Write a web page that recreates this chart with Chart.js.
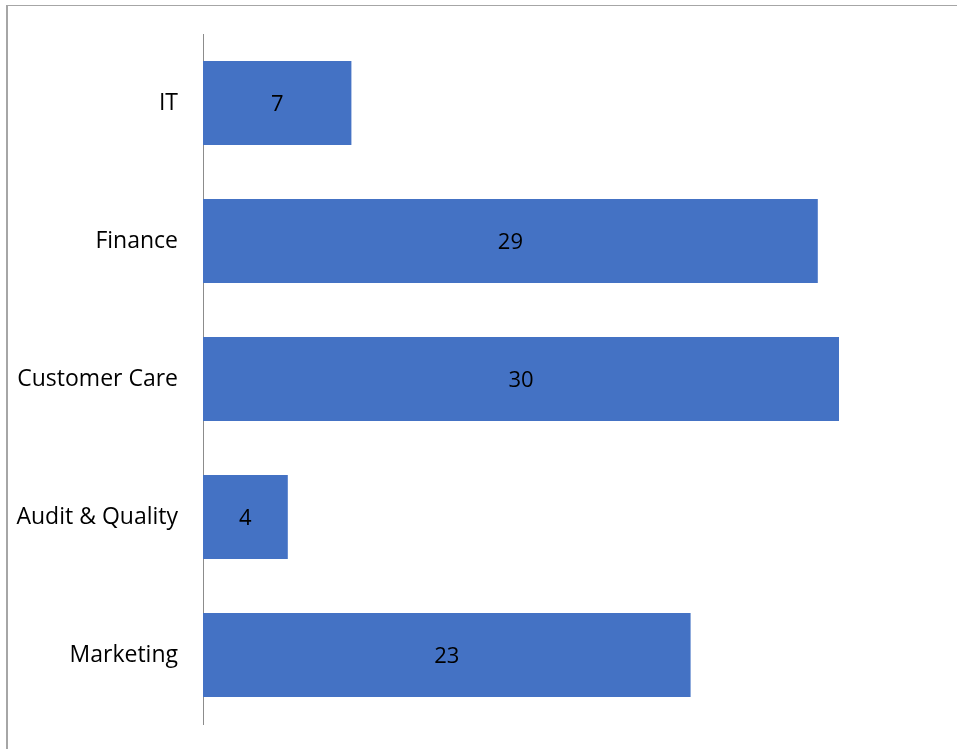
<!DOCTYPE html>
<html>
<head>
<meta charset="utf-8">
<script src="https://cdn.jsdelivr.net/npm/chart.js@4/dist/chart.umd.min.js"></script>
<style>
  html, body { margin: 0; padding: 0; background: #ffffff; }
  #wrap { position: relative; width: 957px; height: 749px; }
</style>
</head>
<body>
<div id="wrap"><canvas id="chart"></canvas></div>
<script>
// Headcount per department
const departments = ['IT', 'Finance', 'Customer Care', 'Audit & Quality', 'Marketing'];
const headcount = [7, 29, 30, 4, 23];

const FONT = "'Open Sans', 'DejaVu Sans', sans-serif";

// Thin frame along the top and left edges of the chart panel
const framePlugin = {
  id: 'frame',
  beforeDraw(chart) {
    const ctx = chart.ctx;
    ctx.save();
    ctx.strokeStyle = '#a6a6a6';
    ctx.lineWidth = 1;
    ctx.beginPath();
    ctx.moveTo(7, 5.5);
    ctx.lineTo(chart.width, 5.5);
    ctx.stroke();
    ctx.lineWidth = 2;
    ctx.beginPath();
    ctx.moveTo(7, 5);
    ctx.lineTo(7, chart.height);
    ctx.stroke();
    ctx.restore();
  }
};

// Value labels centred inside each bar
const centreLabels = {
  id: 'centreLabels',
  afterDatasetsDraw(chart) {
    const ctx = chart.ctx;
    const meta = chart.getDatasetMeta(0);
    const values = chart.data.datasets[0].data;
    ctx.save();
    ctx.fillStyle = '#000000';
    ctx.font = '22px ' + FONT;
    ctx.textAlign = 'center';
    ctx.textBaseline = 'middle';
    meta.data.forEach((bar, i) => {
      ctx.fillText(String(values[i]), (bar.x + bar.base) / 2, bar.y + 2);
    });
    ctx.restore();
  }
};

new Chart(document.getElementById('chart'), {
  type: 'bar',
  data: {
    labels: departments,
    datasets: [{
      data: headcount,
      backgroundColor: '#4472C4',
      borderWidth: 0,
      categoryPercentage: 1,
      barPercentage: 0.61
    }]
  },
  options: {
    indexAxis: 'y',
    responsive: true,
    maintainAspectRatio: false,
    animation: false,
    layout: { padding: { left: 0, top: 34, right: 12, bottom: 25 } },
    plugins: {
      legend: { display: false },
      tooltip: { enabled: false }
    },
    scales: {
      x: {
        display: false,
        min: 0,
        max: 35
      },
      y: {
        grid: { display: false, drawTicks: false },
        border: { display: true, color: '#8c8c8c', width: 1 },
        ticks: {
          color: '#000000',
          padding: 25,
          font: { family: FONT, size: 23 }
        },
        afterFit(scale) {
          scale.width = 203;
          scale.paddingTop = 0;
          scale.paddingBottom = 0;
        }
      }
    }
  },
  plugins: [framePlugin, centreLabels]
});
</script>
</body>
</html>
